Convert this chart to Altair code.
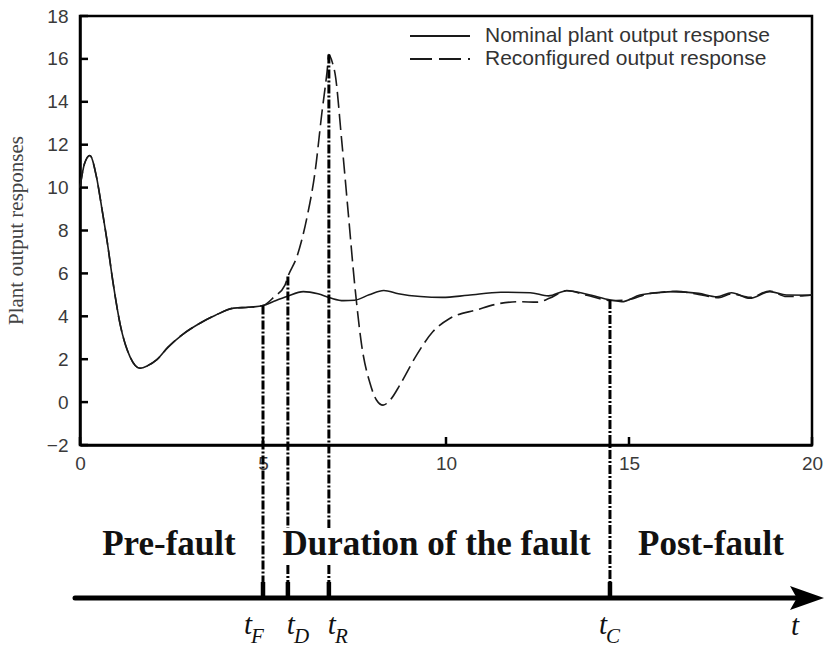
import altair as alt
import pandas as pd

# ---------------- data ----------------
time_nom = [0, 0.12, 0.27, 0.45, 0.6, 0.75, 0.9, 1.1, 1.37, 1.64, 1.85, 2.1, 2.4, 2.8, 3.3,
            3.7, 4.2, 4.6, 5.0, 5.3, 5.65, 6.1, 6.5, 6.85, 7.2, 7.5, 7.9, 8.3, 8.7, 9.3,
            9.9, 10.6, 11.5, 12.3, 12.8, 13.3, 13.85, 14.5, 14.8, 15.3, 15.8, 16.2, 16.9,
            17.4, 17.8, 18.3, 18.85, 19.3, 20]
nominal = [10.0, 11.1, 11.5, 10.5, 9.0, 7.4, 5.6, 3.6, 2.1, 1.58, 1.7, 1.98, 2.55, 3.15, 3.7,
           4.05, 4.38, 4.42, 4.5, 4.7, 4.92, 5.15, 5.05, 4.85, 4.73, 4.75, 5.0, 5.2, 5.05, 4.92,
           4.88, 4.98, 5.12, 5.1, 4.95, 5.19, 5.03, 4.76, 4.68, 4.99, 5.1, 5.15, 5.07,
           4.91, 5.1, 4.84, 5.15, 4.99, 4.98]

time_rec = [0, 0.12, 0.27, 0.45, 0.6, 0.75, 0.9, 1.1, 1.37, 1.64, 1.85, 2.1, 2.4, 2.8, 3.3,
            3.7, 4.2, 4.6, 5.0, 5.3, 5.6, 5.68, 5.93, 6.2, 6.42, 6.61, 6.75, 6.8, 6.9, 6.97,
            7.15, 7.33, 7.51, 7.7, 7.92, 8.1, 8.28, 8.5, 8.74, 9.2, 9.65, 10.1, 10.84, 11.48,
            12.0, 12.5, 12.84, 13.3, 13.85, 14.5, 14.93, 15.57, 16.3, 16.9, 17.45, 17.8,
            18.3, 18.85, 19.3, 20]
reconf = [10.0, 11.1, 11.5, 10.5, 9.0, 7.4, 5.6, 3.6, 2.1, 1.58, 1.7, 1.98, 2.55, 3.15, 3.7,
          4.05, 4.38, 4.42, 4.5, 4.9, 5.45, 5.85, 6.8, 8.6, 10.7, 13.5, 15.4, 16.2, 15.8, 15.3,
          12.2, 8.8, 5.4, 2.6, 0.9, 0.1, -0.14, 0.15, 0.8, 2.2, 3.3, 3.9, 4.3, 4.6,
          4.68, 4.66, 4.85, 5.2, 4.98, 4.74, 4.76, 5.07, 5.16, 5.02, 4.87, 5.05,
          4.88, 5.18, 4.92, 5.0]

y_ticks = [-2, 0, 2, 4, 6, 8, 10, 12, 14, 16, 18]
x_ticks = [0, 5, 10, 15, 20]

event_names = ["F", "D", "R", "C"]
event_times = [5.0, 5.68, 6.8, 14.48]
event_tops = [4.5, 5.85, 16.2, 4.76]

phase_labels = ["Pre-fault", "Duration of the fault", "Post-fault"]
legend_labels = ["Nominal plant output response", "Reconfigured output response"]
y_title = "Plant output responses"

# ---------------- layout ----------------
W, H = 732, 429
TL_Y = 582          # timeline (pixels from plot top)
STUB_TOP = 566
BREAK_TOP, BREAK_BOT = 512, 549
label_dx = {"F": -13, "D": 5, "R": 5, "C": -5}
broken = {"D", "R"}
INK = "#1a1a1a"

x_scale = alt.Scale(domain=[0, 20], nice=False, zero=False)
y_scale = alt.Scale(domain=[-2, 18], nice=False, zero=False)

x_enc = alt.X("t:Q", scale=x_scale,
              axis=alt.Axis(values=x_ticks, title=None, grid=False, ticks=False, tickSize=0,
                            labelPadding=9, labelFont="Liberation Sans", labelFontSize=19,
                            labelColor="#3a3a3a", domainColor="black", domainWidth=2.5,
                            labelFlush=False, format="d"))
y_enc = alt.Y("y:Q", scale=y_scale,
              axis=alt.Axis(values=y_ticks, title=None, grid=False, ticks=False, tickSize=0,
                            labelPadding=12, labelFont="Liberation Sans", labelFontSize=19,
                            labelColor="#3a3a3a", domainColor="black", domainWidth=2.5,
                            labelFlush=False, format="d"))

nom_df = pd.DataFrame({"t": time_nom, "y": nominal})
rec_df = pd.DataFrame({"t": time_rec, "y": reconf})

layers = []

layers.append(alt.Chart(nom_df).mark_line(color=INK, strokeWidth=1.6, interpolate="monotone")
              .encode(x=x_enc, y=y_enc))
layers.append(alt.Chart(rec_df).mark_line(color=INK, strokeWidth=1.6, interpolate="monotone",
                                          strokeDash=[16, 6])
              .encode(x=x_enc, y=y_enc))

# inward ticks
layers.append(alt.Chart(pd.DataFrame({"y": y_ticks})).mark_rule(color="black", strokeWidth=2.5)
              .encode(y=y_enc, x=alt.value(0), x2=alt.value(8)))
layers.append(alt.Chart(pd.DataFrame({"t": x_ticks})).mark_rule(color="black", strokeWidth=2.5)
              .encode(x=x_enc, y=alt.value(H), y2=alt.value(H - 8)))

# event lines
ev_df = pd.DataFrame({"t": event_times, "y": event_tops, "name": event_names})
full_df = ev_df[~ev_df["name"].isin(broken)]
brk_df = ev_df[ev_df["name"].isin(broken)]
dash = [9, 2, 2, 2]
layers.append(alt.Chart(full_df).mark_rule(color="black", strokeWidth=3, strokeDash=dash)
              .encode(x=x_enc, y=y_enc, y2=alt.value(STUB_TOP)))
layers.append(alt.Chart(brk_df).mark_rule(color="black", strokeWidth=3, strokeDash=dash)
              .encode(x=x_enc, y=y_enc, y2=alt.value(BREAK_TOP)))
layers.append(alt.Chart(brk_df).mark_rule(color="black", strokeWidth=3, strokeDash=dash)
              .encode(x=x_enc, y=alt.value(BREAK_BOT), y2=alt.value(STUB_TOP)))
layers.append(alt.Chart(ev_df).mark_rule(color="black", strokeWidth=4.5)
              .encode(x=x_enc, y=alt.value(STUB_TOP), y2=alt.value(TL_Y)))

# timeline with arrow
one = pd.DataFrame({"a": [0]})
layers.append(alt.Chart(one).mark_rule(color="black", strokeWidth=5, strokeCap="round")
              .encode(x=alt.value(-5), x2=alt.value(716), y=alt.value(TL_Y)))
layers.append(alt.Chart(one).mark_point(shape="M 1 0 L -1 -0.7 L -0.6 0 L -1 0.7 Z",
                                        filled=True, color="black", opacity=1, size=1156)
              .encode(x=alt.value(727), y=alt.value(TL_Y)))

# phase labels centred between boundaries
bounds = [-0.14, event_times[0], event_times[-1], 20]
phase_df = pd.DataFrame({"t": [(bounds[i] + bounds[i + 1]) / 2 for i in range(3)],
                         "label": phase_labels})
layers.append(alt.Chart(phase_df).mark_text(font="Liberation Serif", fontWeight="bold",
                                            fontSize=35, color="#111", baseline="alphabetic",
                                            align="center")
              .encode(x=x_enc, y=alt.value(539), text="label:N"))

# event labels t_X
for name, t in zip(event_names, event_times):
    d = pd.DataFrame({"t": [t], "lab": ["t"], "sub": [name]})
    dx = label_dx[name]
    layers.append(alt.Chart(d).mark_text(font="Liberation Serif", fontStyle="italic",
                                         fontSize=29, color="#111", align="right",
                                         baseline="alphabetic", dx=dx + 2)
                  .encode(x=x_enc, y=alt.value(618), text="lab:N"))
    layers.append(alt.Chart(d).mark_text(font="Liberation Serif", fontStyle="italic",
                                         fontSize=21, color="#111", align="left",
                                         baseline="alphabetic", dx=dx + 1)
                  .encode(x=x_enc, y=alt.value(627), text="sub:N"))
layers.append(alt.Chart(pd.DataFrame({"lab": ["t"]})).mark_text(
    font="Liberation Serif", fontStyle="italic", fontSize=29, color="#111",
    align="center", baseline="alphabetic")
    .encode(x=alt.value(715), y=alt.value(619), text="lab:N"))

# y title
layers.append(alt.Chart(pd.DataFrame({"lab": [y_title]})).mark_text(
    font="Liberation Serif", fontSize=21, color="#444", angle=270,
    align="center", baseline="middle")
    .encode(x=alt.value(-63), y=alt.value(H / 2), text="lab:N"))

# legend
for i, (lab, dashed) in enumerate(zip(legend_labels, [False, True])):
    yy = 20 + i * 23
    d = pd.DataFrame({"lab": [lab]})
    kw = {"strokeDash": [22, 7]} if dashed else {}
    layers.append(alt.Chart(d).mark_rule(color=INK, strokeWidth=2, **kw)
                  .encode(x=alt.value(330), x2=alt.value(390), y=alt.value(yy)))
    layers.append(alt.Chart(d).mark_text(font="Liberation Sans", fontSize=21, color="#333",
                                         align="left", baseline="middle")
                  .encode(x=alt.value(405), y=alt.value(yy), text="lab:N"))

chart = alt.layer(*layers).properties(
    width=W, height=H,
    padding={"left": 80, "top": 16, "right": 14, "bottom": 206},
    autosize=alt.AutoSizeParams(type="none"),
    background="white",
).configure_view(stroke="black", strokeWidth=2.5)

chart.save("out.html", embed_options={"renderer": "svg", "actions": False})
